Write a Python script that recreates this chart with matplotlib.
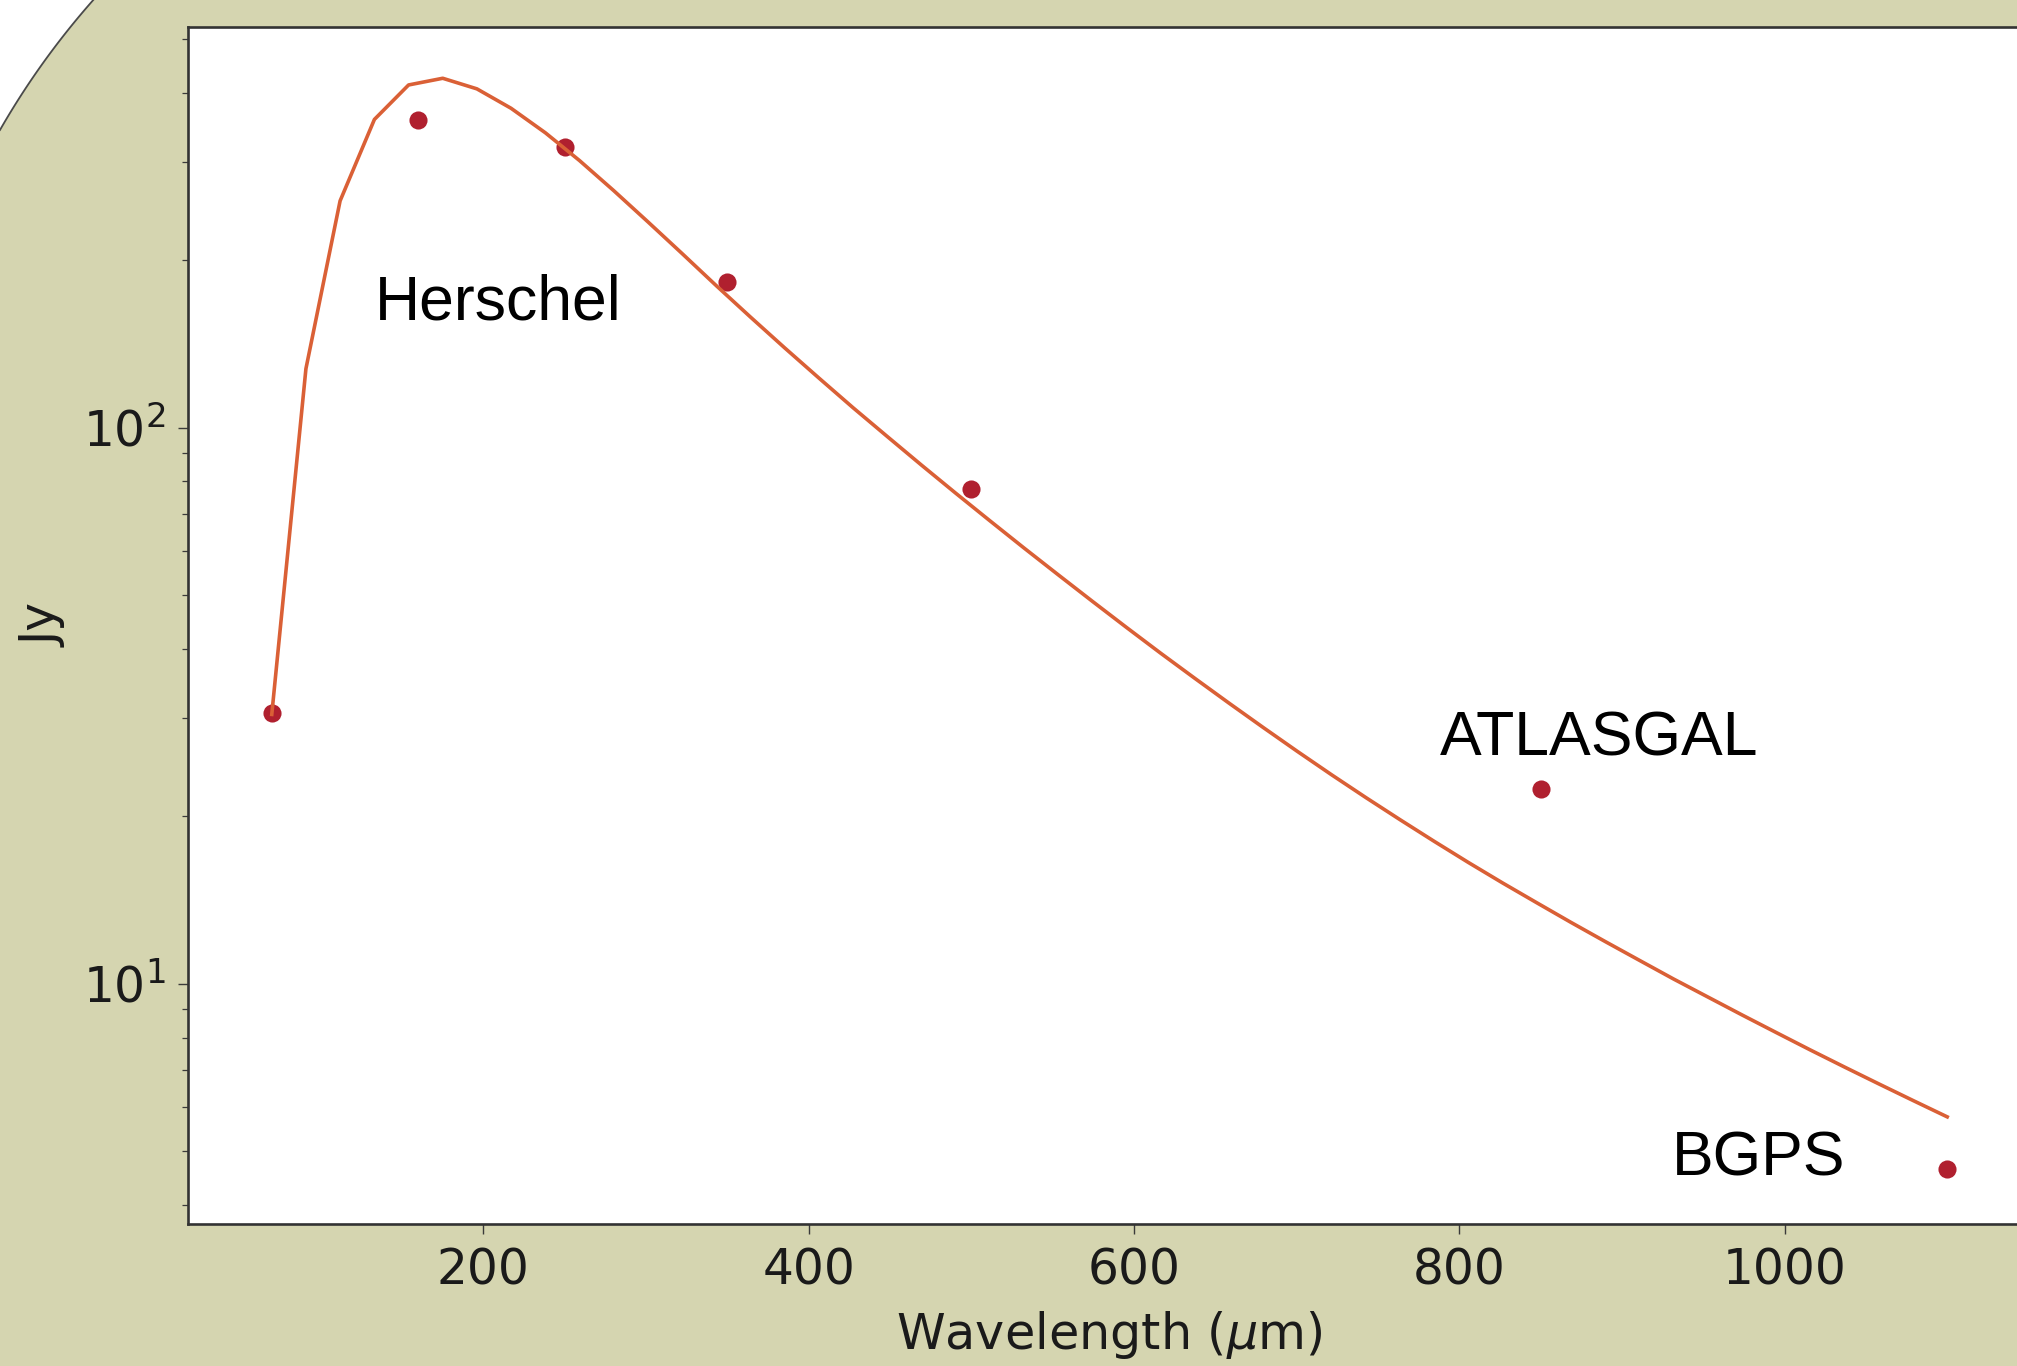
import numpy as np
import matplotlib
matplotlib.use("Agg")
import matplotlib.pyplot as plt

# Measured fluxes (Jy) at the survey wavelengths (um)
point_wavelength = [70, 160, 250, 350, 500, 850, 1100]
point_flux = [30.7, 357.5, 319.0, 182.4, 77.7, 22.4, 4.64]

# Fitted SED curve
fit_wavelength = [70.0, 91.0, 112.0, 133.1, 154.1, 175.1, 196.1, 217.1, 238.2, 259.2,
                  280.2, 301.2, 322.2, 343.3, 364.3, 385.3, 406.3, 427.3, 448.4, 469.4,
                  490.4, 511.4, 532.4, 553.5, 574.5, 595.5, 616.5, 637.6, 658.6, 679.6,
                  700.6, 721.6, 742.7, 763.7, 784.7, 805.7, 826.7, 847.8, 868.8, 889.8,
                  910.8, 931.8, 952.9, 973.9, 994.9, 1015.9, 1036.9, 1058.0, 1079.0, 1100.0]
fit_flux = [30.5, 127.6, 255.6, 358.1, 413.0, 424.6, 406.4, 375.0, 338.8, 302.0,
            266.7, 234.4, 205.6, 179.9, 158.0, 139.1, 122.8, 108.6, 96.36, 85.62,
            76.24, 68.02, 60.76, 54.36, 48.71, 43.71, 39.29, 35.39, 31.94, 28.88,
            26.16, 23.75, 21.61, 19.72, 18.03, 16.52, 15.18, 13.98, 12.89, 11.91,
            11.02, 10.20, 9.467, 8.790, 8.173, 7.603, 7.085, 6.607, 6.169, 5.765]

# Survey labels placed on the slide (pixel positions: left, baseline)
survey_labels = ["Herschel", "ATLASGAL", "BGPS"]
label_px = [(375, 320), (1440, 755), (1672, 1175)]

W, H = 2017, 1366
KHAKI = "#d5d5b0"

fig = plt.figure(figsize=(W / 100, H / 100), dpi=100)
fig.patch.set_facecolor(KHAKI)

# slide background with a rounded top-left corner
bg = fig.add_axes([0, 0, 1, 1], zorder=0)
bg.set_xlim(0, W)
bg.set_ylim(H, 0)
bg.axis("off")
cx, cy, r = 681.7, 520.8, 785.8
t0 = np.arctan2(0 - cy, 93.3 - cx)
t1 = np.arctan2(130 - cy, 0 - cx)
t = np.linspace(t0, t1, 80)
arc_x = cx + r * np.cos(t)
arc_y = cy + r * np.sin(t)
bg.fill(np.r_[0, arc_x, 0], np.r_[0, arc_y, 0], color="white", lw=0)
bg.plot(arc_x, arc_y, color="#4a4a4a", lw=1.3)

# main axes, the right edge runs off the slide
left, right, top, bottom = 188, 2031, 27, 1224
ax = fig.add_axes([left / W, 1 - bottom / H, (right - left) / W, (bottom - top) / H], zorder=1)
ax.set_facecolor("white")

ax.scatter(point_wavelength, point_flux, s=170, color="#b0202f", zorder=2, linewidths=0)
ax.plot(fit_wavelength, fit_flux, color="#da6036", lw=2.6, zorder=3)

ax.set_yscale("log")
ax.set_xlim(18.5, 1151.5)
ax.set_ylim(3.70, 525)
ax.set_xticks([200, 400, 600, 800, 1000])

for s in ax.spines.values():
    s.set_color("#333333")
    s.set_linewidth(1.9)

ax.tick_params(which="major", length=7.2, width=1.0, color="#3a3a3a",
               labelsize=35, labelcolor="#1a1a1a", pad=9)
ax.tick_params(which="minor", length=4.3, width=0.9, color="#3a3a3a")

ax.set_xlabel(r"Wavelength ($\mu$m)", fontsize=35.5, color="#1a1a1a")
ax.set_ylabel("Jy", fontsize=35, color="#1a1a1a")
ax.xaxis.set_label_coords(0.5, -0.071)
ax.yaxis.set_label_coords(-0.0655, 0.5)

for name, (px, py) in zip(survey_labels, label_px):
    fig.text(px / W, 1 - py / H, name, fontsize=45, family="Liberation Sans",
             color="black", ha="left", va="baseline", zorder=5)

fig.savefig("out.png", dpi=100, facecolor=KHAKI)
